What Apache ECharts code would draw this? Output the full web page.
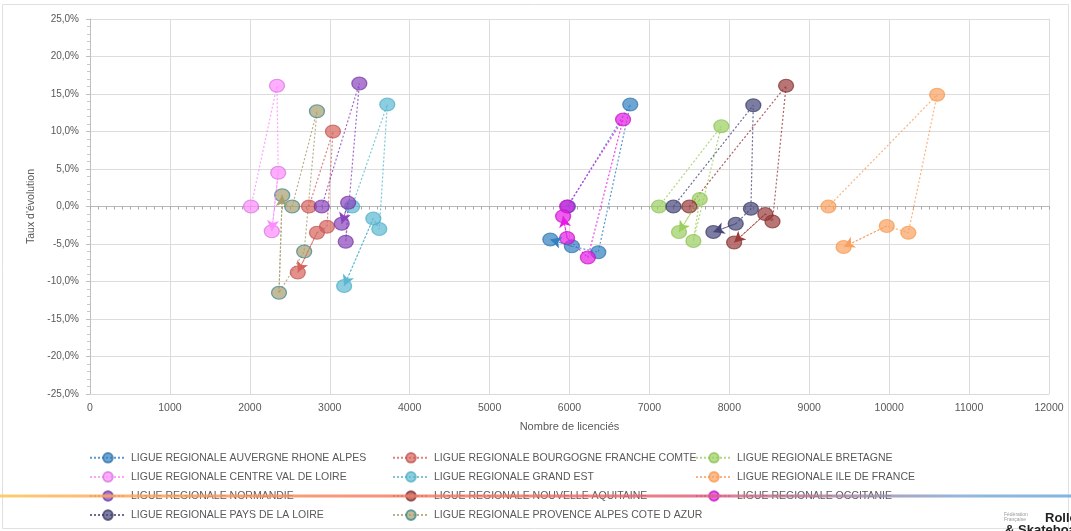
<!DOCTYPE html>
<html>
<head>
<meta charset="utf-8">
<script src="https://cdn.jsdelivr.net/npm/echarts@6/dist/echarts.min.js"></script>
<style>
  html, body { margin: 0; padding: 0; background: #fff; }
  #chart { width: 1071px; height: 531px; }
</style>
</head>
<body>
<div id="chart"></div>
<script>
// x = nombre de licenciés, y = taux d'évolution (%)
const auvergneX = [5980, 6760, 6360, 6030, 5760];
const auvergneY = [0, 13.6, -6.1, -5.3, -4.4];
const bourgogneX = [2740, 3040, 2965, 2840, 2600];
const bourgogneY = [0, 10.0, -2.7, -3.5, -8.8];
const bretagneX = [7120, 7900, 7550, 7630, 7370];
const bretagneY = [0, 10.7, -4.6, 1.0, -3.4];
const centreX = [2015, 2340, 2355, 2275];
const centreY = [0, 16.1, 4.5, -3.3];
const grandEstX = [3280, 3720, 3620, 3545, 3180];
const grandEstY = [0, 13.6, -3.0, -1.6, -10.6];
const ileX = [9240, 10600, 10240, 9970, 9430];
const ileY = [0, 14.9, -3.5, -2.6, -5.4];
const normandieX = [2900, 3370, 3200, 3230, 3150];
const normandieY = [0, 16.4, -4.7, 0.5, -2.3];
const aquitaineX = [7500, 8710, 8540, 8450, 8060];
const aquitaineY = [0, 16.1, -2.0, -1.0, -4.8];
const occitanieX = [5970, 6670, 6230, 5970, 5920];
const occitanieY = [0, 11.6, -6.8, -4.2, -1.3];
const paysLoireX = [7300, 8300, 8270, 8080, 7800];
const paysLoireY = [0, 13.5, -0.3, -2.3, -3.4];
const provenceX = [2530, 2840, 2680, 2365, 2405];
const provenceY = [0, 12.7, -6.0, -11.5, 1.5];

const xTicks = { min: 0, max: 12000, interval: 1000 };
const yTicks = { min: -25, max: 25, interval: 5 };

const ligues = [
    { name: "LIGUE REGIONALE AUVERGNE RHONE ALPES", x: auvergneX, y: auvergneY, color: "#2f7fc1", border: "#2f6ea8" },
    { name: "LIGUE REGIONALE BOURGOGNE FRANCHE COMTE", x: bourgogneX, y: bourgogneY, color: "#d6625d", border: "#c0504d" },
    { name: "LIGUE REGIONALE BRETAGNE", x: bretagneX, y: bretagneY, color: "#9bcf5e", border: "#8cbf52" },
    { name: "LIGUE REGIONALE CENTRE VAL DE LOIRE", x: centreX, y: centreY, color: "#ff8cff", border: "#d070d8" },
    { name: "LIGUE REGIONALE GRAND EST", x: grandEstX, y: grandEstY, color: "#5bb8d2", border: "#4bacc6" },
    { name: "LIGUE REGIONALE ILE DE FRANCE", x: ileX, y: ileY, color: "#f9a060", border: "#f79646" },
    { name: "LIGUE REGIONALE NORMANDIE", x: normandieX, y: normandieY, color: "#8a45bd", border: "#7030a0" },
    { name: "LIGUE REGIONALE NOUVELLE AQUITAINE", x: aquitaineX, y: aquitaineY, color: "#9a3b3a", border: "#7f2a28" },
    { name: "LIGUE REGIONALE OCCITANIE", x: occitanieX, y: occitanieY, color: "#e619e6", border: "#c010c0" },
    { name: "LIGUE REGIONALE PAYS DE LA LOIRE", x: paysLoireX, y: paysLoireY, color: "#46467a", border: "#34345e" },
    { name: "LIGUE REGIONALE PROVENCE ALPES COTE D AZUR", x: provenceX, y: provenceY, color: "#a89e6e", border: "#2f7f8a" }
];

const font = "'Liberation Sans Narrow', 'Liberation Sans', sans-serif";
const grey = "#595959";

let series = ligues.map(l => {
    let pts = l.x.map((v, i) => [v, l.y[i]]);
    let n = pts.length;
    return {
        name: l.name,
        type: "line",
        xAxisIndex: 0,
        data: pts,
        symbol: "circle",
        symbolSize: [15, 13],
        itemStyle: { color: l.color, opacity: 0.7, borderColor: l.border, borderWidth: 1.2 },
        lineStyle: { color: l.color, width: 1.2, type: [2, 2], opacity: 0.8 },
        emphasis: { disabled: true },
        markLine: {
            silent: true,
            animation: false,
            symbol: ["none", "arrow"],
            symbolSize: [9, 11],
            label: { show: false },
            lineStyle: { color: l.color, width: 1, type: [2, 2] },
            data: [[{ coord: pts[n - 2] }, { coord: pts[n - 1] }]]
        }
    };
});

function legendCol(left, names) {
    return {
        orient: "vertical",
        left: left,
        top: 447,
        itemWidth: 36,
        itemHeight: 12,
        itemGap: 7.5,
        textStyle: { color: grey, fontSize: 10.5, fontFamily: font },
        data: names
    };
}

const chart = echarts.init(document.querySelector("#chart"), null, { renderer: "canvas" });

chart.setOption({
    animation: false,
    backgroundColor: "#fff",
    grid: { left: 90, right: 22, top: 19, bottom: 137 },
    legend: [
        legendCol(84, [ligues[0].name, ligues[3].name, ligues[6].name, ligues[9].name]),
        legendCol(387, [ligues[1].name, ligues[4].name, ligues[7].name, ligues[10].name]),
        legendCol(690, [ligues[2].name, ligues[5].name, ligues[8].name])
    ],
    xAxis: [
        {
            type: "value",
            min: xTicks.min, max: xTicks.max, interval: xTicks.interval,
            name: "Nombre de licenciés",
            nameLocation: "middle",
            nameGap: 27,
            nameTextStyle: { color: grey, fontSize: 11, fontFamily: font },
            axisLine: { onZero: false, lineStyle: { color: "#d9d9d9" } },
            axisTick: { show: false },
            axisLabel: { color: grey, fontSize: 10.5, fontFamily: font, margin: 9, formatter: v => String(v) },
            splitLine: { lineStyle: { color: "#dcdcdc", width: 1 } }
        },
        {
            // ligne du zéro
            type: "value",
            position: "bottom",
            min: xTicks.min, max: xTicks.max, interval: xTicks.interval,
            axisLine: { onZero: true, lineStyle: { color: "#b8b8b8", width: 1 } },
            axisTick: { show: true, length: 3, inside: false, lineStyle: { color: "#a8a8a8" } },
            minorTick: { show: true, splitNumber: 10, length: 3, lineStyle: { color: "#a8a8a8" } },
            axisLabel: { show: false },
            splitLine: { show: false }
        }
    ],
    yAxis: {
        type: "value",
        min: yTicks.min, max: yTicks.max, interval: yTicks.interval,
        name: "Taux d'évolution",
        nameLocation: "middle",
        nameGap: 33,
        nameRotate: 90,
        nameTextStyle: { color: grey, fontSize: 10.5, fontFamily: font },
        axisLine: { show: true, lineStyle: { color: "#bfbfbf" } },
        axisTick: { show: true, length: 4, lineStyle: { color: "#bfbfbf" } },
        minorTick: { show: true, splitNumber: 5, length: 3, lineStyle: { color: "#c8c8c8" } },
        axisLabel: {
            color: grey, fontSize: 10, fontFamily: font, margin: 11,
            formatter: v => (Math.abs(v) < 1e-9 ? 0 : v).toFixed(1).replace(".", ",") + "%"
        },
        splitLine: { lineStyle: { color: "#dcdcdc", width: 1 } }
    },
    series: series,
    graphic: [
        {
            type: "rect",
            silent: true,
            shape: { x: 2.5, y: 4.5, width: 1066, height: 524 },
            style: { fill: "none", stroke: "#e0e0e0", lineWidth: 1 }
        },
        {
            // bandeau dégradé de la diapositive
            type: "rect",
            silent: true,
            z: 100,
            shape: { x: 0, y: 494.5, width: 1071, height: 3 },
            style: {
                fill: new echarts.graphic.LinearGradient(0, 0, 1, 0, [
                    { offset: 0, color: "#fcc35a" },
                    { offset: 0.1, color: "#fbab5c" },
                    { offset: 0.3, color: "#f8865f" },
                    { offset: 0.55, color: "#ef6c6c" },
                    { offset: 0.65, color: "#e0627a" },
                    { offset: 0.8, color: "#a58aaa" },
                    { offset: 0.9, color: "#80abd6" },
                    { offset: 1, color: "#6aa8de" }
                ]),
                opacity: 0.85
            }
        },
        {
            type: "text",
            silent: true,
            left: 1004,
            top: 512,
            style: { text: "Fédération\nFrançaise", fill: "#9a9a9a", font: "5px " + font, lineHeight: 5 }
        },
        {
            type: "text",
            silent: true,
            left: 1045,
            top: 512,
            style: { text: "Roller", fill: "#222", font: "bold 13px " + font }
        },
        {
            type: "text",
            silent: true,
            left: 1005,
            top: 524,
            style: { text: "& Skateboard", fill: "#222", font: "bold 13px " + font }
        }
    ]
});
</script>
</body>
</html>
